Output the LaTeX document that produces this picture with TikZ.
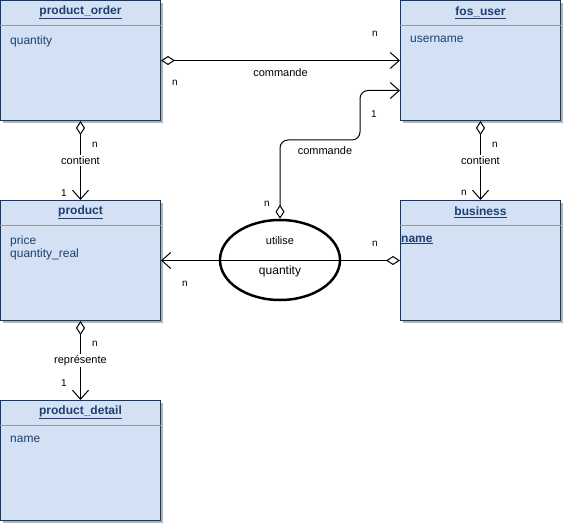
\documentclass[tikz,border=0pt]{standalone}
\usepackage{fontspec}
\setmainfont{Liberation Sans}
\usetikzlibrary{arrows.meta,shapes.geometric,calc}
\definecolor{boxfill}{HTML}{D4E1F5}
\definecolor{boxline}{HTML}{0F3A6E}
\definecolor{boxtext}{HTML}{1E3F6E}
\definecolor{shadowc}{HTML}{B3B3B3}
\tikzset{
  entity/.style={draw=boxline, fill=boxfill, line width=1pt, rectangle, minimum width=160pt, minimum height=120pt, anchor=north west, inner sep=0pt},
  shadowbox/.style={fill=shadowc, draw=none, rectangle, minimum width=160pt, minimum height=120pt, anchor=north west, inner sep=0pt},
  titletext/.style={font=\fontsize{12}{14}\selectfont\bfseries, text=boxtext, anchor=center, inner sep=0pt},
  attrtext/.style={font=\fontsize{12}{13}\selectfont, text=boxtext, anchor=north west, align=left, inner sep=0pt},
  sepline/.style={draw=gray!80, line width=0.8pt},
  lbl/.style={font=\fontsize{11}{12}\selectfont, fill=white, inner sep=1pt},
  card/.style={font=\fontsize{10}{11}\selectfont, inner sep=0pt},
  rel/.style={line width=1pt, {Diamond[open,length=14pt,width=9pt,line width=1pt]}-{Straight Barb[length=9pt,width=16pt,line width=1pt]}},
}
\newcommand{\entitybox}[5]{%
  \node[shadowbox] at ($(#2,#3)+(3,3)$) {};
  \node[entity] (#1) at (#2,#3) {};
  \draw[sepline] ($(#1.north west)+(0,25)$) -- ($(#1.north east)+(0,25)$);
  \node[titletext] (#1-t) at ($(#1.north)+(0,12.5)$) {\underline{#4}};
  \node[attrtext] (#1-a) at ($(#1.north west)+(10,35.5)$) {#5};
}
\begin{document}
\begin{tikzpicture}[x=1pt,y=-1pt]
\useasboundingbox (0,0) rectangle (563,524);
\entitybox{porder}{0}{0}{product\_order}{quantity}
\entitybox{fos}{400}{0}{fos\_user}{username}
\entitybox{prod}{0}{200}{product}{price\\quantity\_real}
\entitybox{bus}{400}{200}{business}{}
\entitybox{pdet}{0}{400}{product\_detail}{name}
\node[font=\fontsize{12}{13}\selectfont\bfseries, text=boxtext, anchor=north west, inner sep=0pt] (busname) at ($(bus.north west)+(1,35.5)$) {\underline{name}};

% relationship ellipse
\node[ellipse, draw, line width=2.5pt, fill=white, minimum width=120pt, minimum height=80pt] (util) at (280,260) {};
\node[font=\fontsize{11}{12}\selectfont] (utillbl) at (280,241) {utilise};
\node[font=\fontsize{12}{13}\selectfont] (utilq) at (280,271) {quantity};

% product_order -> fos_user
\draw[rel] (porder.east) -- (fos.west) node[pos=0.5, font=\fontsize{11}{12}\selectfont, yshift=-12pt] (c1) {commande};
\node[card] (c1a) at (175,83) {n};
\node[card] (c1b) at (375,34) {n};

% utilise -> fos_user
\draw[rel, rounded corners=8pt] (util.north) |- (360,140) |- ([yshift=-30pt]fos.west);
\node[font=\fontsize{11}{12}\selectfont] (c2) at (325,151) {commande};
\node[card] (c2a) at (374,114) {1};
\node[card] (c2b) at (267,204) {n};

% business -> product through ellipse
\draw[rel] (bus.west) -- (prod.east);
\node[card] (c3a) at (375,244) {n};
\node[card] (c3b) at (185,284) {n};

% product_order -> product
\draw[rel] (porder.south) -- (prod.north) node[lbl, pos=0.5] (c4) {contient};
\node[card] (c4a) at (95,145) {n};
\node[card] (c4b) at (64,193) {1};

% fos_user -> business
\draw[rel] (fos.south) -- (bus.north) node[lbl, pos=0.5] (c5) {contient};
\node[card] (c5a) at (495,145) {n};
\node[card] (c5b) at (464,193) {n};

% product -> product_detail
\draw[rel] (prod.south) -- (pdet.north) node[lbl, pos=0.5] (c6) {représente};
\node[card] (c6a) at (95,344) {n};
\node[card] (c6b) at (64,383) {1};
\end{tikzpicture}
\end{document}
